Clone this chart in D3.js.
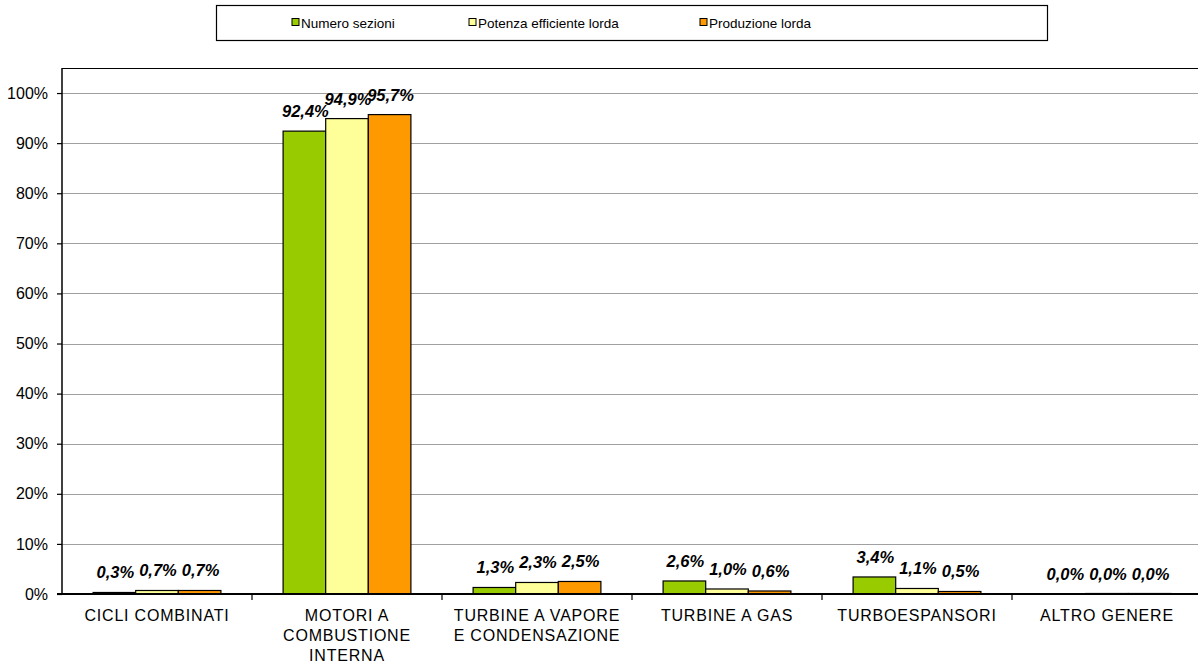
<!DOCTYPE html>
<html><head><meta charset="utf-8">
<script src="https://cdn.jsdelivr.net/npm/d3@7"></script>
<style>
html,body{margin:0;padding:0;background:#fff;}
svg{display:block;font-family:"Liberation Sans",Arial,sans-serif;}
</style></head>
<body>
<svg id="chart" width="1198" height="666"></svg>
<script>
const categories = [["CICLI COMBINATI"],["MOTORI A","COMBUSTIONE","INTERNA"],["TURBINE A VAPORE","E CONDENSAZIONE"],["TURBINE A GAS"],["TURBOESPANSORI"],["ALTRO GENERE"]];
const seriesNames = ["Numero sezioni","Potenza efficiente lorda","Produzione lorda"];
const seriesColors = ["#99CC00","#FFFF99","#FF9900"];
const numeroSezioni = [0.3, 92.4, 1.3, 2.6, 3.4, 0.0];
const potenzaEfficiente = [0.7, 94.9, 2.3, 1.0, 1.1, 0.04];
const produzioneLorda = [0.7, 95.7, 2.5, 0.6, 0.5, 0.04];
const yTicks = [0,10,20,30,40,50,60,70,80,90,100];

const series = [numeroSezioni, potenzaEfficiente, produzioneLorda];
const svg = d3.select("#chart");
const pLeft = 62, pRight = 1202, pTop = 68, pBottom = 594;

const x = d3.scaleBand().domain(d3.range(categories.length)).range([pLeft, pRight]).padding(0);
const xi = d3.scaleBand().domain(d3.range(series.length)).range([0, x.bandwidth()]).paddingOuter(0.73).paddingInner(0);
const y = d3.scaleLinear().domain([0,105]).range([pBottom, pTop]);

// gridlines
svg.append("g").selectAll("line").data(yTicks.filter(d=>d>0)).join("line")
  .attr("x1", pLeft).attr("x2", 1198).attr("y1", d=>Math.round(y(d))+0.5).attr("y2", d=>Math.round(y(d))+0.5)
  .attr("stroke", "#a0a0a0").attr("stroke-width", 1.2);
// top border
svg.append("line").attr("x1", pLeft).attr("x2", 1198).attr("y1", pTop+0.5).attr("y2", pTop+0.5).attr("stroke","#000").attr("stroke-width",1.2);

// bars
const fmt = v => d3.format(".1f")(v).replace(".", ",") + "%";
categories.forEach((c, ci) => {
  const g = svg.append("g").attr("transform", `translate(${x(ci)},0)`);
  series.forEach((s, si) => {
    const v = s[ci];
    if (v > 0) {
      const h = Math.max(pBottom - y(v), 0.5);
      g.append("rect").attr("x", xi(si)).attr("width", xi.bandwidth())
        .attr("y", pBottom - h).attr("height", h)
        .attr("fill", seriesColors[si]).attr("stroke", "#000").attr("stroke-width", 1.2);
    }
    g.append("text").attr("x", xi(si) + xi.bandwidth()/2 + 1).attr("y", y(v) - 14)
      .attr("text-anchor","middle").attr("font-size", 16.5).attr("font-weight","bold").attr("font-style","italic")
      .attr("fill","#000").text(fmt(v));
  });
});

// y axis
const yAxis = d3.axisLeft(y).tickValues(yTicks).tickFormat(d=>d+"%").tickSize(5).tickPadding(9);
const ya = svg.append("g").attr("transform", `translate(${pLeft},0)`).call(yAxis);
ya.select(".domain").attr("d", `M0,${pTop}V${pBottom}`).attr("stroke","#000").attr("stroke-width",1.5);
ya.selectAll(".tick line").attr("stroke","#000").attr("stroke-width",1.2);
ya.selectAll(".tick text").attr("font-size",16).attr("fill","#000").attr("font-family","Liberation Sans, Arial, sans-serif");

// x axis baseline
svg.append("line").attr("x1", pLeft-5).attr("x2", 1198).attr("y1", pBottom).attr("y2", pBottom).attr("stroke","#000").attr("stroke-width",2);
// category ticks
svg.append("g").selectAll("line").data(d3.range(1, categories.length)).join("line")
  .attr("x1", d=>x(d)).attr("x2", d=>x(d)).attr("y1", pBottom).attr("y2", pBottom+6).attr("stroke","#000").attr("stroke-width",1.2);
// category labels
categories.forEach((c, ci) => {
  const t = svg.append("text").attr("text-anchor","middle").attr("font-size",16).attr("fill","#000")
    .attr("letter-spacing", 0.8);
  c.forEach((line, li) => {
    t.append("tspan").attr("x", x(ci) + x.bandwidth()/2).attr("y", pBottom + 27 + li*20).text(line);
  });
});

// legend
svg.append("rect").attr("x", 216.5).attr("y", 5.5).attr("width", 831).attr("height", 35)
  .attr("fill","#fff").attr("stroke","#000").attr("stroke-width",1.2);
const legX = [292, 469, 700];
seriesNames.forEach((n, i) => {
  svg.append("rect").attr("x", legX[i]).attr("y", 18.5).attr("width", 7).attr("height", 7)
    .attr("fill", seriesColors[i]).attr("stroke","#000").attr("stroke-width",1);
  svg.append("text").attr("x", legX[i] + 9).attr("y", 27.5).attr("font-size", 13.5).attr("fill","#000").text(n);
});
</script>
</body></html>
